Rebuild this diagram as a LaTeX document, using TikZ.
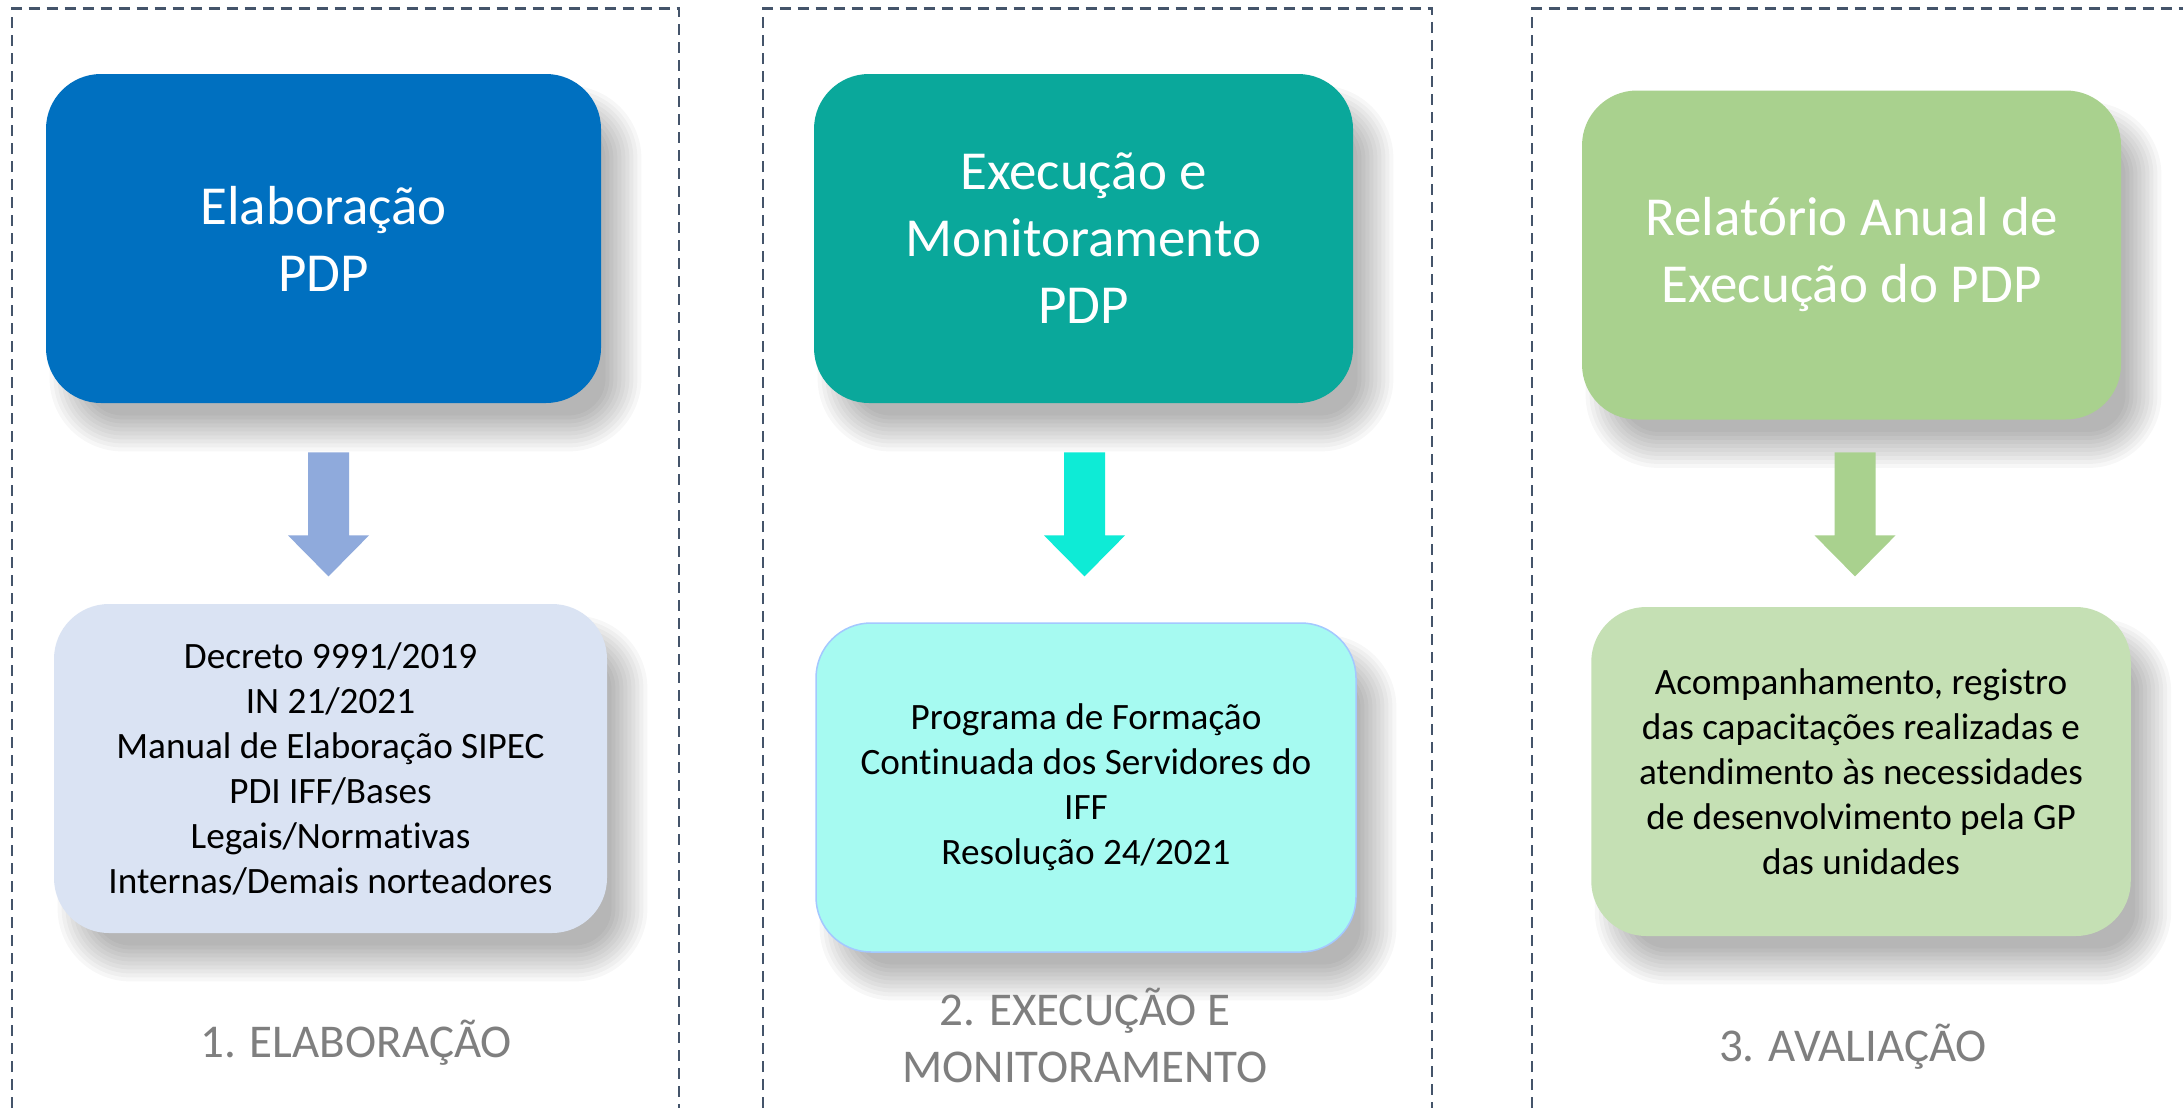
\documentclass[tikz,border=0pt]{standalone}
\usepackage{fontspec}
\setmainfont{Carlito}[Ligatures=NoCommon]
\usetikzlibrary{calc}
\definecolor{dashc}{HTML}{44546A}
\definecolor{cbA}{HTML}{0070C0}
\definecolor{cbAb}{HTML}{DAE3F3}
\definecolor{caA}{HTML}{8FAADC}
\definecolor{cbB}{HTML}{0AA89B}
\definecolor{cbBb}{HTML}{A6FAF1}
\definecolor{cbBbord}{HTML}{A4C8FF}
\definecolor{caB}{HTML}{0EEBD6}
\definecolor{cbC}{HTML}{A9D18E}
\definecolor{cbCb}{HTML}{C5E0B4}
\definecolor{clab}{HTML}{7F7F7F}
\newcommand\mkshadow[1]{%
  \foreach \e [evaluate=\e as \r using 27.5+0.5*\e] in {-18,-14,...,18} {%
    \fill[black,opacity=0.033,rounded corners=\r pt]
      ($(#1.south west)+(22-\e,30+\e)$) rectangle ($(#1.north east)+(22+\e,30-\e)$);
  }%
}
\newcommand\blockarrow[2]{%
  \fill[#1] ($(#2)+(-20.5,0)$) -- ++(41,0) -- ++(0,83) -- ++(20,0)
    -- ($(#2)+(0,124)$) -- ($(#2)+(-40.5,83)$) -- ++(20,0) -- cycle;
}
\begin{document}
\begin{tikzpicture}[x=0.5pt,y=-0.5pt,
  panel/.style={draw=dashc,line width=1.1pt,dash pattern=on 5.5pt off 3.5pt},
  titlebox/.style={rounded corners=27.5pt,inner sep=0pt,align=center,text=white,
    font=\fontsize{27.5pt}{33.5pt}\selectfont,minimum height=164.5pt},
  bodybox/.style={rounded corners=27.5pt,inner sep=0pt,align=center,text=black,
    font=\fontsize{18.6pt}{22.5pt}\selectfont,minimum height=164.5pt},
  steplabel/.style={anchor=base,align=center,text=clab,
    font=\fontsize{23.5pt}{28.5pt}\selectfont,inner sep=0pt}]
\useasboundingbox (0,0) rectangle (2183,1108);
\fill[white] (0,0) rectangle (2183,1108);

% dashed panels (open at the bottom)
\draw[panel] (12,1108) -- (12,8.5) -- (679,8.5) -- (679,1108);
\draw[panel] (763,1108) -- (763,8.5) -- (1432,8.5) -- (1432,1108);
\draw[panel] (1532,1108) -- (1532,8.5) -- (2183,8.5);

% box outlines (phantom) to anchor the shadows
\path (323.5,238.5) node[titlebox,minimum width=277.5pt] (b1) {\phantom{X}};
\path (1083.5,238.5) node[titlebox,minimum width=269.5pt] (b2) {\phantom{X}};
\path (1851.5,255) node[titlebox,minimum width=269.5pt] (b3) {\phantom{X}};
\path (330.5,768.5) node[bodybox,minimum width=276.5pt] (c1) {\phantom{X}};
\path (1086,787.5) node[bodybox,minimum width=270pt] (c2) {\phantom{X}};
\path (1861,771.5) node[bodybox,minimum width=269.75pt] (c3) {\phantom{X}};

\mkshadow{b1}\mkshadow{b2}\mkshadow{b3}
\mkshadow{c1}\mkshadow{c2}\mkshadow{c3}

\node[titlebox,fill=cbA,minimum width=277.5pt] (B1) at (323.5,238.5) {Elaboração\\PDP};
\node[titlebox,fill=cbB,minimum width=269.5pt] (B2) at (1083.5,238.5) {Execução e\\Monitoramento\\PDP};
\node[titlebox,fill=cbC,minimum width=269.5pt] (B3) at (1851.5,255) {Relatório Anual de\\Execução do PDP};

\node[bodybox,fill=cbAb,minimum width=276.5pt] (C1) at (330.5,768.5)
  {Decreto 9991/2019\\IN 21/2021\\Manual de Elaboração SIPEC\\PDI IFF/Bases\\Legais/Normativas\\Internas/Demais norteadores};
\node[bodybox,fill=cbBb,draw=cbBbord,line width=0.75pt,minimum width=270pt] (C2) at (1086,787.5)
  {Programa de Formação\\Continuada dos Servidores do\\IFF\\Resolução 24/2021};
\node[bodybox,fill=cbCb,minimum width=269.75pt] (C3) at (1861,771.5)
  {Acompanhamento, registro\\das capacitações realizadas e\\atendimento às necessidades\\de desenvolvimento pela GP\\das unidades};

% block arrows
\coordinate (a1) at ($(B1.south)+(5,49)$);
\coordinate (a2) at ($(B2.south)+(1,49)$);
\coordinate (a3) at ($(B3.south)+(3.5,32.5)$);
\blockarrow{caA}{a1}
\blockarrow{caB}{a2}
\blockarrow{cbC}{a3}

% step labels
\node[steplabel] (L1) at (356,1057) {1. ELABORAÇÃO};
\node[steplabel] (L2) at (1085,1082) {2. EXECUÇÃO E\\MONITORAMENTO};
\node[steplabel] (L3) at (1853,1061) {3. AVALIAÇÃO};
\end{tikzpicture}
\end{document}
